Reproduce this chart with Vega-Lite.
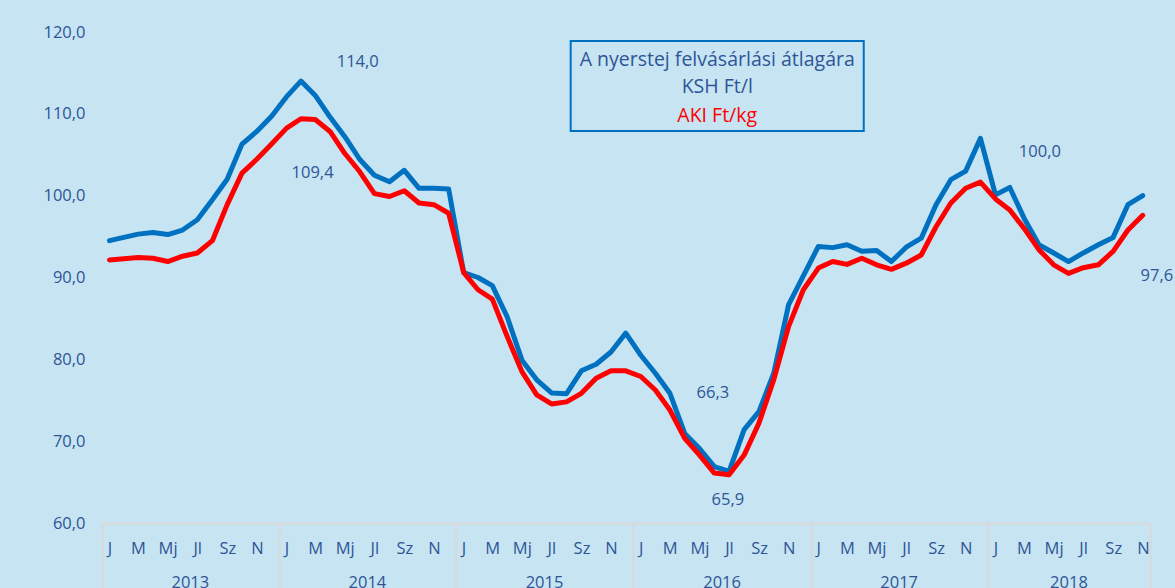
{
  "$schema": "https://vega.github.io/schema/vega-lite/v6.json",
  "width": 1048,
  "height": 491,
  "autosize": {"type": "none"},
  "padding": {"left": 102, "top": 32, "right": 25, "bottom": 65},
  "background": "#C6E4F2",
  "config": {
    "view": {"stroke": null},
    "font": "Open Sans",
    "text": {"font": "Open Sans"},
    "axis": {"labelFont": "Open Sans", "labelColor": "#2F5597", "labelFontSize": 16.5, "grid": false}
  },
  "datasets": {
    "prices": [
      {"date": "2013-01-01", "KSH": 94.5, "AKI": 92.15},
      {"date": "2013-02-01", "KSH": 94.9, "AKI": 92.3},
      {"date": "2013-03-01", "KSH": 95.3, "AKI": 92.45},
      {"date": "2013-04-01", "KSH": 95.5, "AKI": 92.35},
      {"date": "2013-05-01", "KSH": 95.25, "AKI": 91.95},
      {"date": "2013-06-01", "KSH": 95.8, "AKI": 92.6},
      {"date": "2013-07-01", "KSH": 97.05, "AKI": 93.0},
      {"date": "2013-08-01", "KSH": 99.5, "AKI": 94.5},
      {"date": "2013-09-01", "KSH": 102.0, "AKI": 98.9},
      {"date": "2013-10-01", "KSH": 106.3, "AKI": 102.75},
      {"date": "2013-11-01", "KSH": 107.85, "AKI": 104.45},
      {"date": "2013-12-01", "KSH": 109.7, "AKI": 106.3},
      {"date": "2014-01-01", "KSH": 112.1, "AKI": 108.25},
      {"date": "2014-02-01", "KSH": 114.0, "AKI": 109.4},
      {"date": "2014-03-01", "KSH": 112.25, "AKI": 109.3},
      {"date": "2014-04-01", "KSH": 109.6, "AKI": 107.85},
      {"date": "2014-05-01", "KSH": 107.2, "AKI": 105.15},
      {"date": "2014-06-01", "KSH": 104.45, "AKI": 102.95},
      {"date": "2014-07-01", "KSH": 102.5, "AKI": 100.25},
      {"date": "2014-08-01", "KSH": 101.7, "AKI": 99.9},
      {"date": "2014-09-01", "KSH": 103.1, "AKI": 100.6},
      {"date": "2014-10-01", "KSH": 100.9, "AKI": 99.1},
      {"date": "2014-11-01", "KSH": 100.9, "AKI": 98.9},
      {"date": "2014-12-01", "KSH": 100.8, "AKI": 97.85},
      {"date": "2015-01-01", "KSH": 90.6, "AKI": 90.6},
      {"date": "2015-02-01", "KSH": 90.0, "AKI": 88.5},
      {"date": "2015-03-01", "KSH": 89.0, "AKI": 87.35},
      {"date": "2015-04-01", "KSH": 85.2, "AKI": 82.8},
      {"date": "2015-05-01", "KSH": 79.9, "AKI": 78.5},
      {"date": "2015-06-01", "KSH": 77.5, "AKI": 75.65},
      {"date": "2015-07-01", "KSH": 75.9, "AKI": 74.55},
      {"date": "2015-08-01", "KSH": 75.8, "AKI": 74.8},
      {"date": "2015-09-01", "KSH": 78.6, "AKI": 75.85},
      {"date": "2015-10-01", "KSH": 79.4, "AKI": 77.7},
      {"date": "2015-11-01", "KSH": 80.9, "AKI": 78.6},
      {"date": "2015-12-01", "KSH": 83.2, "AKI": 78.6},
      {"date": "2016-01-01", "KSH": 80.5, "AKI": 77.9},
      {"date": "2016-02-01", "KSH": 78.3, "AKI": 76.25},
      {"date": "2016-03-01", "KSH": 75.85, "AKI": 73.8},
      {"date": "2016-04-01", "KSH": 70.95, "AKI": 70.35},
      {"date": "2016-05-01", "KSH": 69.1, "AKI": 68.3},
      {"date": "2016-06-01", "KSH": 66.9, "AKI": 66.1},
      {"date": "2016-07-01", "KSH": 66.3, "AKI": 65.9},
      {"date": "2016-08-01", "KSH": 71.4, "AKI": 68.3},
      {"date": "2016-09-01", "KSH": 73.6, "AKI": 72.2},
      {"date": "2016-10-01", "KSH": 78.3, "AKI": 77.5},
      {"date": "2016-11-01", "KSH": 86.65, "AKI": 84.0},
      {"date": "2016-12-01", "KSH": 90.2, "AKI": 88.5},
      {"date": "2017-01-01", "KSH": 93.8, "AKI": 91.15},
      {"date": "2017-02-01", "KSH": 93.65, "AKI": 91.95},
      {"date": "2017-03-01", "KSH": 94.0, "AKI": 91.6},
      {"date": "2017-04-01", "KSH": 93.2, "AKI": 92.35},
      {"date": "2017-05-01", "KSH": 93.3, "AKI": 91.55},
      {"date": "2017-06-01", "KSH": 91.95, "AKI": 91.0},
      {"date": "2017-07-01", "KSH": 93.7, "AKI": 91.75},
      {"date": "2017-08-01", "KSH": 94.8, "AKI": 92.75},
      {"date": "2017-09-01", "KSH": 98.9, "AKI": 96.2},
      {"date": "2017-10-01", "KSH": 101.95, "AKI": 99.1},
      {"date": "2017-11-01", "KSH": 103.0, "AKI": 100.9},
      {"date": "2017-12-01", "KSH": 107.0, "AKI": 101.65},
      {"date": "2018-01-01", "KSH": 100.1, "AKI": 99.6},
      {"date": "2018-02-01", "KSH": 101.0, "AKI": 98.25},
      {"date": "2018-03-01", "KSH": 97.25, "AKI": 96.0},
      {"date": "2018-04-01", "KSH": 94.0, "AKI": 93.4},
      {"date": "2018-05-01", "KSH": 93.0, "AKI": 91.55},
      {"date": "2018-06-01", "KSH": 91.95, "AKI": 90.5},
      {"date": "2018-07-01", "KSH": 93.0, "AKI": 91.2},
      {"date": "2018-08-01", "KSH": 94.0, "AKI": 91.55},
      {"date": "2018-09-01", "KSH": 94.9, "AKI": 93.2},
      {"date": "2018-10-01", "KSH": 98.9, "AKI": 95.8},
      {"date": "2018-11-01", "KSH": 100.0, "AKI": 97.6}
    ],
    "legendbox": [
      {"from": "2015-08-25", "to": "2017-04-20", "top": 118.9, "bottom": 107.9}
    ],
    "legendtext": [
      {"text": "A nyerstej felvásárlási átlagára", "kind": "cim", "date": "2016-06-22", "v": 116.58},
      {"text": "KSH Ft/l", "kind": "KSH", "date": "2016-06-22", "v": 113.28},
      {"text": "AKI Ft/kg", "kind": "AKI", "date": "2016-06-22", "v": 109.73}
    ],
    "valuelabels": [
      {"label": "114,0", "date": "2014-06-12", "v": 116.33},
      {"label": "109,4", "date": "2014-03-11", "v": 102.77},
      {"label": "66,3", "date": "2016-06-13", "v": 75.88},
      {"label": "65,9", "date": "2016-07-14", "v": 62.8},
      {"label": "100,0", "date": "2018-04-18", "v": 105.33},
      {"label": "97,6", "date": "2018-12-15", "v": 90.18}
    ]
  },
  "resolve": {"axis": {"x": "independent"}},
  "layer": [
    {
      "data": {"name": "prices"},
      "mark": {"type": "line", "color": "#0070C0", "strokeWidth": 5, "strokeJoin": "round", "strokeCap": "round"},
      "encoding": {
        "x": {
          "field": "date", "type": "temporal", "timeUnit": "utcyearmonth", "bandPosition": 0.5,
          "scale": {"type": "utc", "nice": false, "domain": [{"year": 2013, "month": 1, "date": 1, "utc": true}, {"year": 2018, "month": 12, "date": 1, "utc": true}]},
          "axis": {
            "orient": "bottom",
            "title": null, "ticks": false, "tickSize": 0, "domain": true, "domainColor": "#D9D9D9", "domainWidth": 2,
            "tickCount": {"interval": "month", "step": 2},
            "labelExpr": "['J','F','M','Á','Mj','Jn','Jl','Au','Sz','O','N','D'][utcmonth(datum.value)]",
            "labelOffset": 7.4, "labelPadding": 25, "labelBaseline": "middle", "labelFlush": false, "labelOverlap": false, "labelBound": false
          }
        },
        "y": {
          "field": "KSH", "type": "quantitative",
          "scale": {"domain": [60, 120], "nice": false, "zero": false},
          "axis": {
            "orient": "left",
            "title": null, "domain": false, "ticks": false, "grid": false,
            "values": [60, 70, 80, 90, 100, 110, 120],
            "labelExpr": "replace(format(datum.value, '.1f'), '.', ',')",
            "labelPadding": 17, "labelFlush": false, "labelOverlap": false, "labelBound": false
          }
        }
      }
    },
    {
      "data": {"name": "prices"},
      "mark": {"type": "line", "color": "#FF0000", "strokeWidth": 5, "strokeJoin": "round", "strokeCap": "round"},
      "encoding": {
        "x": {
          "field": "date", "type": "temporal", "timeUnit": "utcyearmonth", "bandPosition": 0.5,
          "axis": {
            "orient": "bottom",
            "title": null, "ticks": false, "tickSize": 0, "domain": false,
            "values": [
              {"year": 2013, "month": 7, "date": 1, "utc": true},
              {"year": 2014, "month": 7, "date": 1, "utc": true},
              {"year": 2015, "month": 7, "date": 1, "utc": true},
              {"year": 2016, "month": 7, "date": 1, "utc": true},
              {"year": 2017, "month": 7, "date": 1, "utc": true},
              {"year": 2018, "month": 6, "date": 16, "utc": true}
            ],
            "labelExpr": "'' + utcyear(datum.value)",
            "labelPadding": 59, "labelBaseline": "middle", "labelFlush": false, "labelOverlap": false, "labelBound": false
          }
        },
        "y": {"field": "AKI", "type": "quantitative"}
      }
    },
    {
      "data": {"name": "legendbox"},
      "mark": {"type": "rect", "fill": null, "fillOpacity": 0, "stroke": "#0070C0", "strokeWidth": 2},
      "encoding": {
        "x": {
          "field": "from", "type": "temporal",
          "axis": {
            "orient": "bottom",
            "title": null, "labels": false, "domain": false, "ticks": true, "tickSize": 70, "tickColor": "#D9D9D9", "tickWidth": 2,
            "values": [
              {"year": 2013, "month": 1, "date": 1, "utc": true},
              {"year": 2014, "month": 1, "date": 1, "utc": true},
              {"year": 2015, "month": 1, "date": 1, "utc": true},
              {"year": 2016, "month": 1, "date": 1, "utc": true},
              {"year": 2017, "month": 1, "date": 1, "utc": true},
              {"year": 2018, "month": 1, "date": 1, "utc": true},
              {"year": 2018, "month": 12, "date": 1, "utc": true}
            ]
          }
        },
        "x2": {"field": "to"},
        "y": {"field": "top", "type": "quantitative"},
        "y2": {"field": "bottom"}
      }
    },
    {
      "data": {"name": "legendtext"},
      "mark": {"type": "text", "fontSize": 19.5, "align": "center", "baseline": "middle"},
      "encoding": {
        "x": {"field": "date", "type": "temporal", "axis": null},
        "y": {"field": "v", "type": "quantitative"},
        "text": {"field": "text"},
        "color": {"field": "kind", "type": "nominal", "legend": null, "scale": {"domain": ["cim", "KSH", "AKI"], "range": ["#2F5597", "#2F5597", "#FF0000"]}}
      }
    },
    {
      "data": {"name": "valuelabels"},
      "mark": {"type": "text", "fontSize": 16.5, "align": "center", "baseline": "middle", "color": "#2F5597"},
      "encoding": {
        "x": {"field": "date", "type": "temporal", "axis": null},
        "y": {"field": "v", "type": "quantitative"},
        "text": {"field": "label"}
      }
    }
  ]
}
